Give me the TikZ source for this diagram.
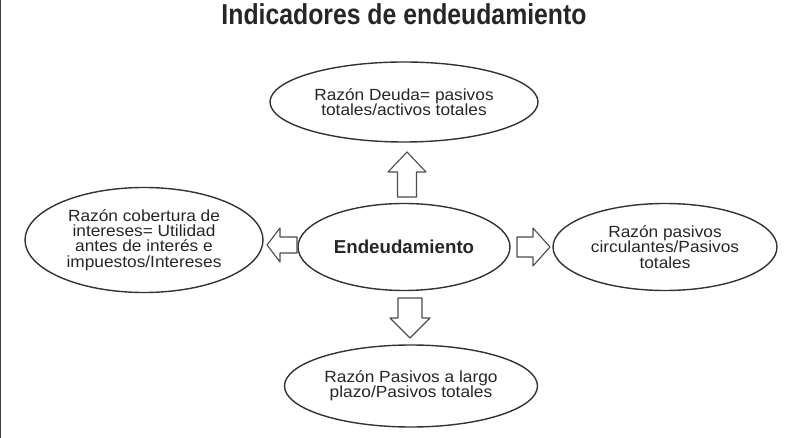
\documentclass[tikz,border=0pt]{standalone}
\usepackage{fontspec}
\setmainfont{Liberation Sans}
\newfontfamily\titlefont[FakeStretch=0.86]{Liberation Sans}
\newfontfamily\bodyfont[FakeStretch=1.07]{Liberation Sans}
\usetikzlibrary{shapes.geometric}
\newcommand\pix{0.025cm}
\tikzset{
oval/.style={draw=black!80,line width=1pt,ellipse,inner sep=-3cm,align=center,
  font=\bodyfont\fontsize{11.5}{10.8}\selectfont,text=black!85},
blockarrow/.style={draw=black!70,line width=0.8pt,fill=white},
}
\begin{document}
\begin{tikzpicture}[x=0.025cm,y=-0.025cm,line cap=round,line join=round]
\useasboundingbox (0,0) rectangle (800,438);
\draw[line width=1.5*\pix,black!75] (0.75,0)--(0.75,438);
\path
(404,14) node[font=\titlefont\fontsize{20.5}{24}\selectfont\bfseries,text=black!85] (T) {Indicadores de endeudamiento}
(404,247) node[oval,minimum width=212*\pix,minimum height=87*\pix,font=\fontsize{13.3}{15}\selectfont\bfseries] (O) {Endeudamiento}
(404,102) node[oval,minimum width=268*\pix,minimum height=80*\pix] (A) {Razón Deuda= pasivos\\totales/activos totales}
(144,240) node[oval,minimum width=238*\pix,minimum height=105*\pix] (B) {Razón cobertura de\\intereses= Utilidad\\antes de interés e\\impuestos/Intereses}
(665,247) node[oval,minimum width=224*\pix,minimum height=87*\pix] (C) {Razón pasivos\\circulantes/Pasivos\\totales}
(411,386) node[oval,minimum width=253*\pix,minimum height=82*\pix] (D) {Razón Pasivos a largo\\plazo/Pasivos totales}
;
% flechas
\draw[blockarrow] (397.5,197)--(397.5,172)--(388,172)--(407,152)--(426,172)--(416.5,172)--(416.5,197)--cycle;
\draw[blockarrow] (297,237)--(280,237)--(280,228)--(267,245)--(280,262)--(280,253)--(297,253)--cycle;
\draw[blockarrow] (517,237)--(533,237)--(533,228)--(550,247)--(533,266)--(533,257)--(517,257)--cycle;
\draw[blockarrow] (398,298)--(398,318)--(390,318)--(410,338)--(430,318)--(422,318)--(422,298)--cycle;
\end{tikzpicture}
\end{document}
